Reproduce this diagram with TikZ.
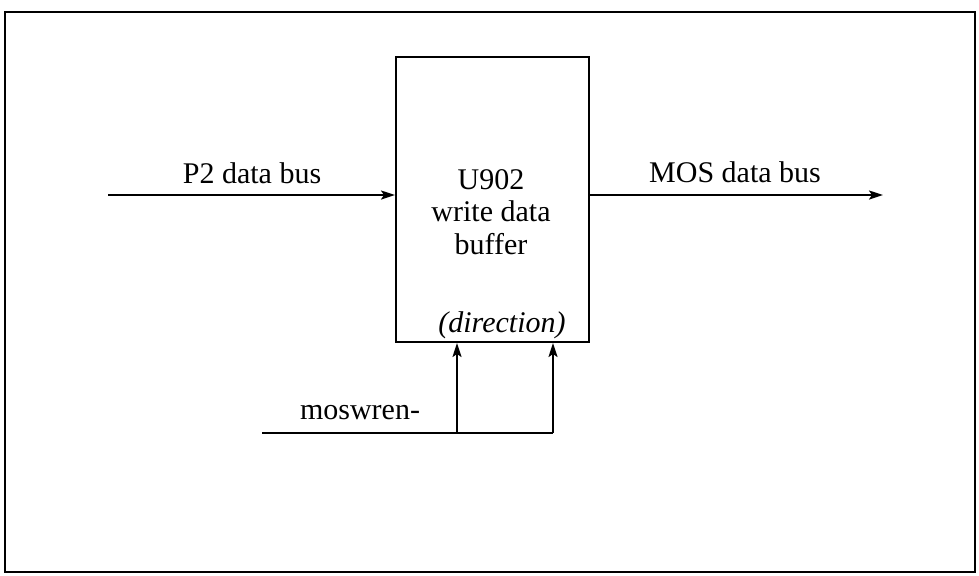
\documentclass[tikz,border=0pt]{standalone}
\usepackage{fontspec}
\setmainfont{Liberation Serif}
\usetikzlibrary{arrows.meta}

\begin{document}
\begin{tikzpicture}[x=0.5pt,y=-0.5pt,
  wire/.style={line width=1pt},
  sig/.style={wire,-{Stealth[length=7pt,width=4.5pt,inset=1.5pt]}},
  lbl/.style={inner sep=0pt,font=\fontsize{15}{17}\selectfont}]
\useasboundingbox (0,0) rectangle (979,575);
\draw[line width=1.3pt] (5,12) rectangle (975,572);
\node[draw,wire,minimum width=96.5pt,minimum height=142.5pt,inner sep=0pt] (buf) at (492.5,199.5) {};
\node[lbl,align=center] (bufname) at (491,212) {U902\\[-0.6pt]write data\\[-0.6pt]buffer};
\node[lbl,font=\fontsize{15}{17}\selectfont\itshape] (dir) at (502,325) {(direction)};
\coordinate (p2) at (108,195);
\coordinate (mos) at (883,195);
\coordinate (wren) at (262,433);
\coordinate (j1) at (457,433);
\coordinate (j2) at (553,433);
\node[lbl] (p2lbl) at (252,173) {P2 data bus};
\node[lbl] (moslbl) at (735,172) {MOS data bus};
\node[lbl] (wrenlbl) at (360,413) {moswren-};
\draw[sig] (p2) -- (p2 -| buf.west);
\draw[sig] (mos -| buf.east) -- (mos);
\draw[wire] (wren) -- (j2);
\draw[sig] (j1) -- (j1 |- buf.south);
\draw[sig] (j2) -- (j2 |- buf.south);
\end{tikzpicture}
\end{document}
